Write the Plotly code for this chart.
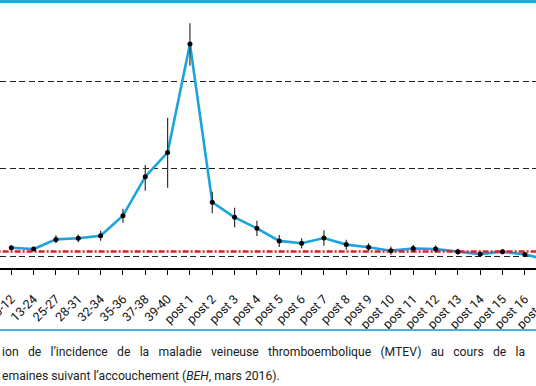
import plotly.graph_objects as go

# Categories (weeks of pregnancy, then weeks post-partum)
categories = ["0-12", "13-24", "25-27", "28-31", "32-34", "35-36", "37-38", "39-40",
              "post 1", "post 2", "post 3", "post 4", "post 5", "post 6", "post 7", "post 8",
              "post 9", "post 10", "post 11", "post 12", "post 13", "post 14", "post 15",
              "post 16", "post 17"]

# Incidence estimates (log scale, arbitrary units)
incidence = [1.25, 1.21, 1.56, 1.61, 1.72, 2.91, 8.12, 15.4,
             267.0, 4.14, 2.79, 2.09, 1.50, 1.41, 1.62, 1.36,
             1.27, 1.16, 1.23, 1.21, 1.13, 1.06, 1.13, 1.05, 0.915]
ci_low = [1.22, 1.18, 1.41, 1.45, 1.51, 2.42, 5.62, 6.08,
          150.7, 3.10, 2.15, 1.71, 1.28, 1.23, 1.32, 1.19,
          1.14, 1.04, 1.13, 1.11, 1.04, 1.035, 1.06, 1.03, 0.88]
ci_high = [1.29, 1.24, 1.74, 1.78, 1.96, 3.50, 11.05, 38.4,
           460.0, 5.47, 3.59, 2.55, 1.75, 1.61, 1.98, 1.55,
           1.41, 1.29, 1.35, 1.33, 1.22, 1.09, 1.21, 1.08, 0.95]

# Reference levels
grid_values = [1, 10, 100]
red_reference = 1.135

caption_words1 = ["ion", "de", "l’incidence", "de", "la", "maladie", "veineuse",
                  "thromboembolique", "(MTEV)", "au", "cours", "de", "la"]
caption_line2 = "emaines suivant l’accouchement (<i>BEH</i>, mars 2016)."

# justified first caption line: widen word gaps with thin spaces
caption_line1 = (" \u2009\u2009\u200a").join(caption_words1)

xidx = list(range(len(categories)))
err_plus = [h - v for h, v in zip(ci_high, incidence)]
err_minus = [v - l for v, l in zip(incidence, ci_low)]

fig = go.Figure()
fig.add_trace(go.Scatter(
    x=xidx, y=incidence, mode="lines",
    line=dict(color="#1BA3DB", width=2.6),
    hoverinfo="skip", showlegend=False))
fig.add_trace(go.Scatter(
    x=[-2, len(categories) + 1], y=[red_reference, red_reference], mode="lines",
    line=dict(color="#DC2229", width=2.4, dash="6px,2px,2px,2px"),
    hoverinfo="skip", showlegend=False))
fig.add_trace(go.Scatter(
    x=xidx, y=incidence, mode="markers",
    marker=dict(color="black", size=5),
    error_y=dict(type="data", symmetric=False, array=err_plus, arrayminus=err_minus,
                 color="#333333", thickness=1.2, width=0),
    showlegend=False))

W, H = 572, 386
plot_top, plot_bottom = 5, 268
ph = plot_bottom - plot_top
step = 22.33        # px per category
first_x = 11.3      # px of first category

def py(p):
    return (plot_bottom - p) / ph

fig.update_layout(
    width=W, height=H,
    margin=dict(l=0, r=0, t=plot_top, b=H - plot_bottom, pad=0),
    paper_bgcolor="white", plot_bgcolor="white",
    showlegend=False,
    xaxis=dict(range=[-first_x / step, (W - first_x) / step], tickvals=xidx,
               ticktext=categories, tickangle=-45, showgrid=False, zeroline=False,
               showline=True, linecolor="black", linewidth=1.5,
               ticks="outside", ticklen=5, tickwidth=1.2, tickcolor="black",
               ticklabelstandoff=12, ticklabeloverflow="allow",
               tickfont=dict(family="Roboto", size=12.5, color="#111111"),
               automargin=False),
    yaxis=dict(type="log", range=[-0.1337, 2.872], tickvals=grid_values,
               showticklabels=False, showgrid=True, gridcolor="#222222",
               gridwidth=1.4, griddash="6px,3.5px", zeroline=False, showline=False,
               automargin=False),
    shapes=[
        dict(type="line", xref="paper", yref="paper", x0=0, x1=1,
             y0=py(1.5), y1=py(1.5), line=dict(color="#22A8E0", width=3), layer="above"),
        dict(type="line", xref="paper", yref="paper", x0=0, x1=1,
             y0=py(330), y1=py(330), line=dict(color="#3DB5E6", width=2), layer="above"),
    ],
    annotations=[
        dict(text=caption_line1, xref="paper", yref="paper", x=0, y=py(352),
             xanchor="left", yanchor="middle", showarrow=False,
             font=dict(family="Roboto", size=12.2, color="#222222")),
        dict(text=caption_line2, xref="paper", yref="paper", x=0, y=py(376),
             xanchor="left", yanchor="middle", showarrow=False,
             font=dict(family="Roboto", size=12.2, color="#222222")),
    ],
)

fig.write_html("out.html", config={"displayModeBar": False},
               post_script="document.body.style.margin='0';document.body.style.overflow='hidden';")
